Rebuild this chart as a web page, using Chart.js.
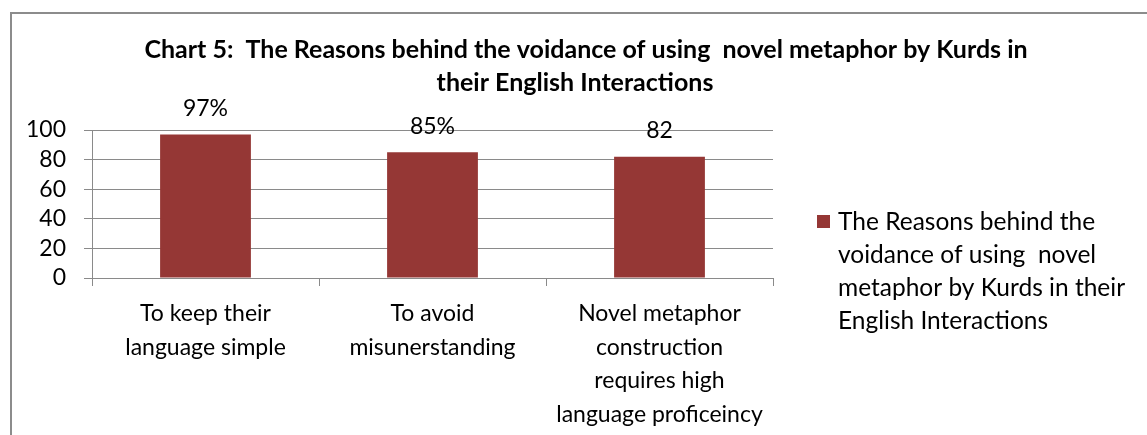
<!DOCTYPE html>
<html><head><meta charset="utf-8">
<script src="https://cdn.jsdelivr.net/npm/chart.js@4"></script>
<style>html,body{margin:0;padding:0;background:#fff}#wrap{width:1147px;height:435px;position:relative}</style>
</head><body><div id="wrap"><canvas id="c" width="1147" height="435"></canvas></div>
<script>
const titleLines = ["Chart 5:  The Reasons behind the voidance of using  novel metaphor by Kurds in", "their English Interactions"];
const categories = [["To keep their", "language simple"], ["To avoid", "misunerstanding"], ["Novel metaphor", "construction", "requires high", "language proficeincy"]];
const seriesName = "The Reasons behind the voidance of using  novel metaphor by Kurds in their English Interactions";
const legendLines = ["The Reasons behind the", "voidance of using  novel", "metaphor by Kurds in their", "English Interactions"];
const values = [97, 85, 82];
const valueLabels = ["97%", "85%", "82"];
const yMin = 0, yMax = 100, yStep = 20;

const FONT = "Lato";
const BAR = "#953735";
const GRID = "#8a8a8a";

const deco = {
  id: "deco",
  afterDraw(chart) {
    const ctx = chart.ctx;
    ctx.save();
    // outer frame
    ctx.strokeStyle = "#8c8c8c";
    ctx.lineWidth = 2;
    ctx.beginPath();
    ctx.moveTo(11, 435); ctx.lineTo(11, 13); ctx.lineTo(1147, 13);
    ctx.stroke();
    // title
    ctx.fillStyle = "#000";
    ctx.font = "bold 25px " + FONT;
    ctx.textAlign = "center";
    ctx.textBaseline = "middle";
    ctx.fillText(titleLines[0], 586, 50);
    ctx.fillText(titleLines[1], 575, 83);
    // data labels
    ctx.font = "23px " + FONT;
    const meta = chart.getDatasetMeta(0);
    meta.data.forEach((bar, i) => {
      ctx.fillText(valueLabels[i], bar.x, bar.y - 26);
    });
    // legend
    ctx.fillStyle = BAR;
    ctx.fillRect(817, 215, 13, 13);
    ctx.fillStyle = "#000";
    ctx.textAlign = "left";
    ctx.font = "24.5px " + FONT;
    legendLines.forEach((t, i) => ctx.fillText(t, 838, 222 + i * 33));
    ctx.restore();
  }
};

new Chart(document.getElementById("c"), {
  type: "bar",
  data: {
    labels: categories,
    datasets: [{
      label: seriesName,
      data: values,
      backgroundColor: BAR,
      borderWidth: 0,
      categoryPercentage: 1,
      barPercentage: 0.4
    }]
  },
  options: {
    responsive: false,
    animation: false,
    devicePixelRatio: 1,
    layout: { padding: { top: 130, right: 374, left: 0, bottom: 0 } },
    plugins: { legend: { display: false }, title: { display: false }, tooltip: { enabled: false } },
    scales: {
      y: {
        min: yMin, max: yMax,
        ticks: { stepSize: yStep, autoSkip: false, color: "#000", font: { family: FONT, size: 23 }, padding: 18 },
        grid: { color: GRID, tickLength: 8, lineWidth: 1 },
        border: { color: GRID, width: 1 },
        afterFit(s) { s.width = 92; }
      },
      x: {
        offset: true,
        ticks: { color: "#000", font: { family: FONT, size: 23, lineHeight: 1.46 }, padding: 11, maxRotation: 0, autoSkip: false },
        grid: { offset: true, drawOnChartArea: false, color: GRID, tickLength: 8 },
        border: { color: GRID, width: 1 },
        afterFit(s) { s.height = 157; }
      }
    }
  },
  plugins: [deco]
});
</script></body></html>
